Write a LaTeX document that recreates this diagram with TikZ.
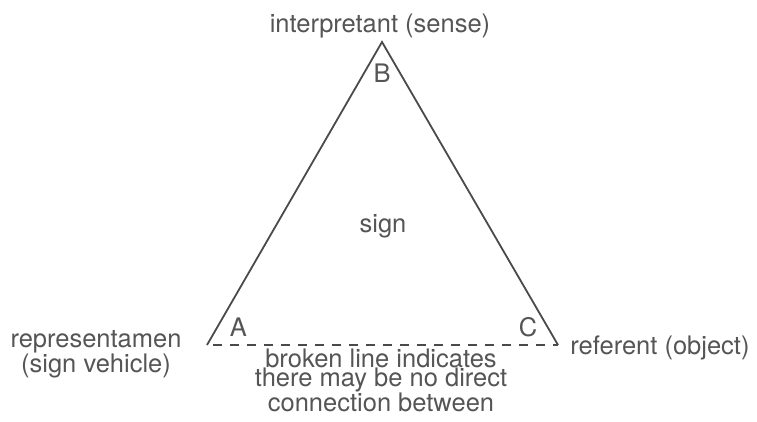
\documentclass[tikz,border=0pt]{standalone}
\usepackage{fontspec}
\setmainfont{TeX Gyre Heros}
\definecolor{inkgray}{HTML}{555555}
\definecolor{edgegray}{HTML}{4A4A4A}
\tikzset{
  lbl/.style={text=inkgray, inner sep=0pt, anchor=base, align=center,
    font=\fontsize{25.5}{19.5}\selectfont},
  side/.style={edgegray, line width=1.8pt},
}

\begin{document}
\begin{tikzpicture}[x=1pt, y=1pt]
      \useasboundingbox (0,0) rectangle (757,422);
      \coordinate (A) at (207,77);
      \coordinate (B) at (382,380);
      \coordinate (C) at (558,77);
      \draw[side] (A) -- (B) -- (C);
      \draw[side, dash pattern=on 9pt off 8pt, dash phase=11pt] (A) -- (C);
      \node[lbl] (lA) at (238.5,85) {A};
      \node[lbl] (lB) at (382,339) {B};
      \node[lbl] (lC) at (528,85) {C};
      \node[lbl] (sign) at (383,189) {sign};
      \node[lbl] (interp) at (380,389) {interpretant (sense)};
      \node[lbl] (repr) at (96,49) {representamen\\(sign vehicle)};
      \node[lbl] (refer) at (660,67) {referent (object)};
      \node[lbl] (broken) at (381,10) {broken line indicates\\there may be no direct\\connection between};
    \end{tikzpicture}
\end{document}
